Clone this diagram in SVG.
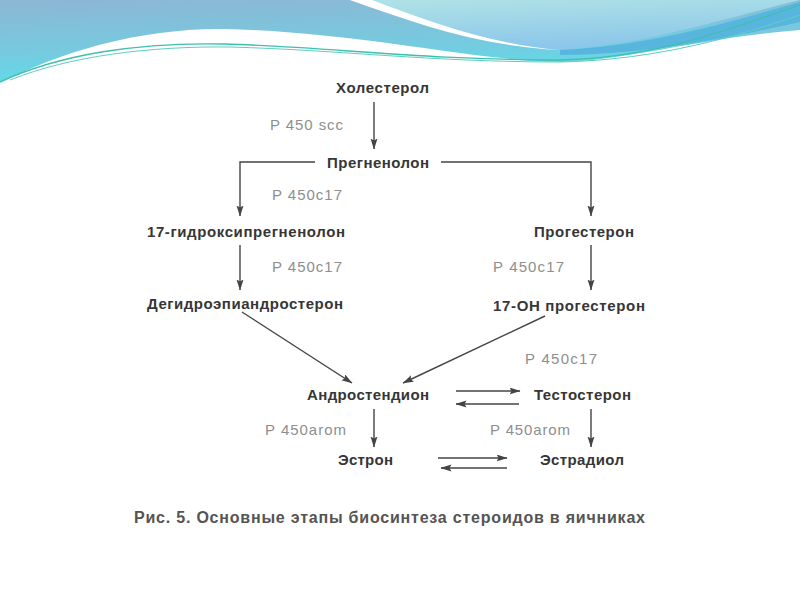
<svg xmlns="http://www.w3.org/2000/svg" width="800" height="600" viewBox="0 0 800 600">
<defs>
  <linearGradient id="gBlue" x1="0" y1="0" x2="0.25" y2="1">
    <stop offset="0" stop-color="#8db6d4"/>
    <stop offset="0.6" stop-color="#76cadf"/>
    <stop offset="1" stop-color="#5edce9"/>
  </linearGradient>
  <linearGradient id="gLight" x1="0" y1="0" x2="0.3" y2="1">
    <stop offset="0" stop-color="#b0e3e6"/>
    <stop offset="1" stop-color="#8cc6ea"/>
  </linearGradient>
  <marker id="ah" markerUnits="userSpaceOnUse" markerWidth="11" markerHeight="8" refX="10.5" refY="3.5" orient="auto">
    <path d="M0,0 L11,3.5 L0,7 L2,3.5 z" fill="#444"/>
  </marker>
  <style>
    .node { font-family: "Liberation Sans", Arial, sans-serif; font-weight: bold; font-size: 15px; fill: #363636; }
    .enz { font-family: "Liberation Sans", Arial, sans-serif; font-size: 15px; fill: #8e8e8e; }
    .cap { font-family: "Liberation Sans", Arial, sans-serif; font-weight: bold; font-size: 16px; fill: #545454; }
    .c { fill: none; stroke: #444; stroke-width: 1.4; }
    .a { marker-end: url(#ah); }
  </style>
</defs>

<rect x="0" y="0" width="800" height="600" fill="#ffffff"/>
<g id="background">
  <path d="M0,0 H800 V30 C700,38 620,62 560,62 C480,62 360,32 224,29 C140,28 60,52 0,83 Z" fill="url(#gBlue)"/>
  <path d="M350,0 C420,20 480,45 560,50 C640,45 720,20 800,0 Z" fill="url(#gLight)"/>
  <path d="M350,0 L372,0 C430,22 490,44 560,50 C480,46 420,25 350,0 Z" fill="#ffffff"/>
  <path d="M560,50 C650,46 730,22 800,2 L800,22 C720,40 640,55 560,55 Z" fill="#58b6de"/>
  <path d="M0,82 C60,54 140,42 224,44 C330,47 420,60 560,60 C660,58 740,25 800,5" fill="none" stroke="#3fbfae" stroke-width="1.3"/>
  <path d="M10,80 C70,56 150,46 230,47 C340,50 430,62 560,62 C660,60 740,35 800,15" fill="none" stroke="#5dcfc0" stroke-width="1"/>
</g>

<g id="connectors">
  <line class="c a" x1="374" y1="102" x2="374" y2="149"/>
  <polyline class="c a" points="315,162 240,162 240,216"/>
  <polyline class="c a" points="441,162 591,162 591,216"/>
  <line class="c a" x1="240" y1="245" x2="240" y2="290"/>
  <line class="c a" x1="591" y1="245" x2="591" y2="290"/>
  <line class="c a" x1="242" y1="312" x2="352" y2="383"/>
  <line class="c a" x1="545" y1="316" x2="403" y2="383"/>
  <line class="c a" x1="456" y1="391" x2="520" y2="391"/>
  <line class="c a" x1="519" y1="404" x2="456" y2="404"/>
  <line class="c a" x1="374" y1="409" x2="374" y2="447"/>
  <line class="c a" x1="591" y1="409" x2="591" y2="447"/>
  <line class="c a" x1="438" y1="458" x2="507" y2="458"/>
  <line class="c a" x1="507" y1="468" x2="441" y2="468"/>
</g>

<g id="labels">
  <text class="enz" x="270" y="130" textLength="73">P 450 scc</text>
  <text class="enz" x="272" y="200" textLength="70">P 450c17</text>
  <text class="enz" x="272" y="272" textLength="70">P 450c17</text>
  <text class="enz" x="493" y="272" textLength="71">P 450c17</text>
  <text class="enz" x="525" y="364" textLength="72">P 450c17</text>
  <text class="enz" x="265" y="435" textLength="81">P 450arom</text>
  <text class="enz" x="490" y="435" textLength="80">P 450arom</text>
</g>

<g id="n-cholesterol"><text class="node" x="336" y="93" textLength="93">Холестерол</text></g>
<g id="n-pregnenolone"><text class="node" x="327" y="168" textLength="102">Прегненолон</text></g>
<g id="n-17oh-pregnenolone"><text class="node" x="147" y="237" textLength="198">17-гидроксипрегненолон</text></g>
<g id="n-progesterone"><text class="node" x="534" y="237" textLength="100">Прогестерон</text></g>
<g id="n-dhea"><text class="node" x="147" y="309" textLength="196">Дегидроэпиандростерон</text></g>
<g id="n-17oh-progesterone"><text class="node" x="493" y="311" textLength="152">17-ОН прогестерон</text></g>
<g id="n-androstenedione"><text class="node" x="307" y="400" textLength="122">Андростендион</text></g>
<g id="n-testosterone"><text class="node" x="534" y="400" textLength="97">Тестостерон</text></g>
<g id="n-estrone"><text class="node" x="338" y="465" textLength="55">Эстрон</text></g>
<g id="n-estradiol"><text class="node" x="540" y="465" textLength="84">Эстрадиол</text></g>

<text class="cap" x="134" y="523" textLength="511">Рис. 5. Основные этапы биосинтеза стероидов в яичниках</text>
</svg>
